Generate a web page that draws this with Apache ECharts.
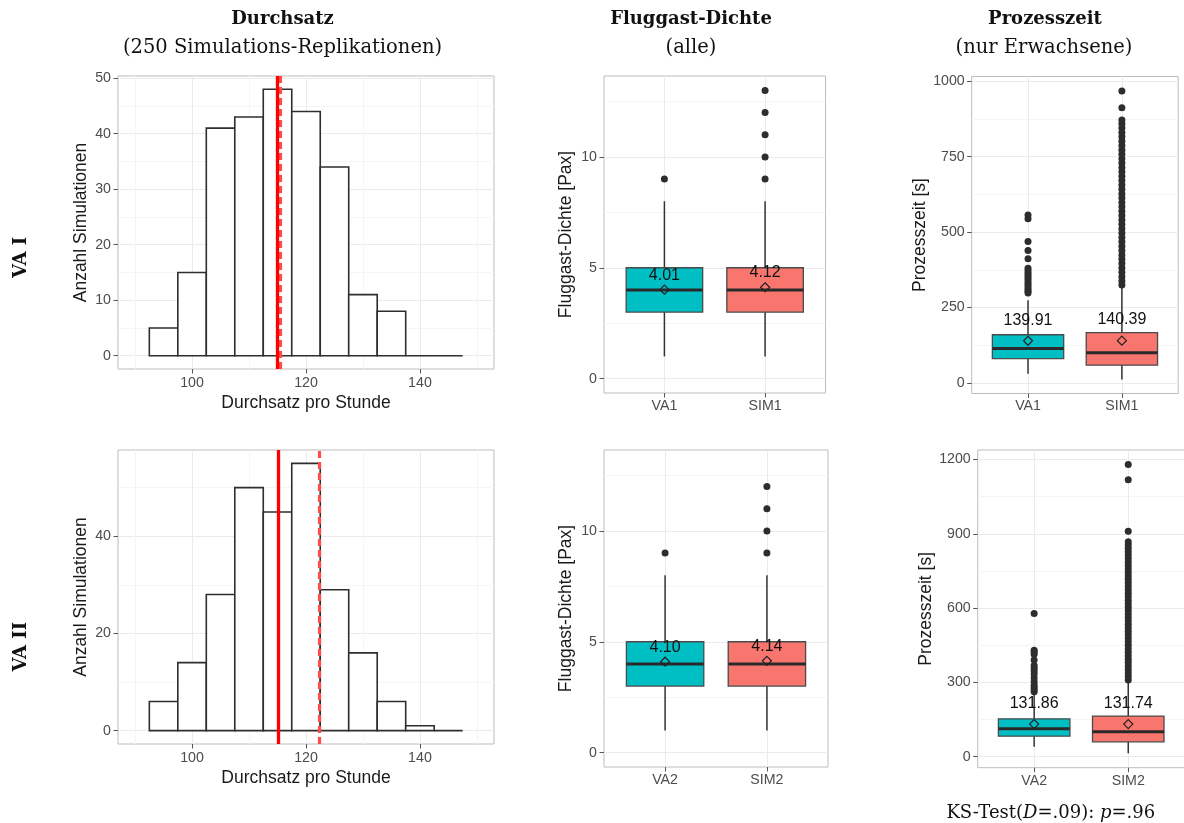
<!DOCTYPE html>
<html>
<head>
<meta charset="utf-8">
<script src="https://cdn.jsdelivr.net/npm/echarts@6.0.0/dist/echarts.min.js"></script>
<style>
  html, body { margin: 0; padding: 0; background: #fff; }
  #chart { width: 1184px; height: 823px; }
</style>
</head>
<body>
<div id="chart"></div>
<script>
// ---- Durchsatz (Histogramme, 250 Replikationen) ----
const binCenters = [95, 100, 105, 110, 115, 120, 125, 130, 135, 140, 145];
const binWidth = 5;
const countsVA1 = [5, 15, 41, 43, 48, 44, 34, 11, 8, 0, 0];
const countsVA2 = [6, 14, 28, 50, 45, 55, 29, 16, 6, 1, 0];
const realThroughput = [115.0, 115.1];  // durchgezogene Linie
const simThroughput = [115.5, 122.4];   // gestrichelte Linie

// ---- Fluggast-Dichte ----
const cats1 = ['VA1', 'SIM1'];
const cats2 = ['VA2', 'SIM2'];
const densityBox1 = [[1, 3, 4, 5, 8], [1, 3, 4, 5, 8]];   // min, q1, median, q3, max
const densityBox2 = [[1, 3, 4, 5, 8], [1, 3, 4, 5, 8]];
const densityOut1 = [[9], [9, 10, 11, 12, 13]];
const densityOut2 = [[9], [9, 10, 11, 12]];
const densityMean1 = [4.01, 4.12];
const densityMean2 = [4.10, 4.14];

// ---- Prozesszeit ----
const timeBox1 = [[31, 81, 114, 160, 274], [12, 59, 100, 167, 318]];
const timeBox2 = [[40, 83, 113, 153, 256], [14, 60, 101, 164, 305]];
const timeOut1 = [
  [298, 304, 311, 318, 326, 333, 341, 349, 356, 364, 372, 380, 412, 439, 469, 544, 557],
  [325, 338, 352, 367, 381, 396, 410, 424, 439, 453, 468, 482, 497, 511, 526, 540, 555, 569,
   584, 598, 613, 627, 642, 656, 671, 685, 700, 714, 729, 743, 758, 772, 787, 801, 816, 830,
   845, 859, 872, 912, 968]
];
const timeOut2 = [
  [262, 270, 279, 289, 303, 318, 334, 346, 357, 368, 391, 414, 424, 430, 578],
  [310, 324, 338, 352, 366, 380, 394, 408, 422, 436, 450, 464, 478, 492, 506, 520, 534, 548,
   562, 576, 590, 604, 618, 632, 646, 660, 674, 688, 702, 716, 730, 744, 758, 772, 786, 800,
   814, 828, 842, 856, 868, 910, 1118, 1180]
];
const timeMean1 = [139.91, 140.39];
const timeMean2 = [131.86, 131.74];

// ---- Achsen-Ticks ----
const histXTicks = [100, 120, 140];
const histXMinor = [90, 110, 130, 150];
const histYTicks1 = [0, 10, 20, 30, 40, 50];
const histYMinor1 = [5, 15, 25, 35, 45];
const histYTicks2 = [0, 20, 40];
const histYMinor2 = [10, 30, 50];
const densityTicks = [0, 5, 10];
const densityMinor = [2.5, 7.5, 12.5];
const timeTicks1 = [0, 250, 500, 750, 1000];
const timeMinor1 = [125, 375, 625, 875];
const timeTicks2 = [0, 300, 600, 900, 1200];
const timeMinor2 = [150, 450, 750, 1050];

const boxColors = ['#00BFC4', '#F8766D'];
const sans = 'Liberation Sans, Arial, sans-serif';
const serif = 'DejaVu Serif, serif';
const tickText = { color: '#4d4d4d', fontFamily: sans, fontSize: 14.2 };
const titleText = { color: '#1a1a1a', fontFamily: sans, fontSize: 17.5 };

const grids = [], xAxes = [], yAxes = [], series = [];

function addGrid(r) {
    grids.push({
        left: r[0], top: r[1], width: r[2], height: r[3],
        show: true, backgroundColor: '#fff', borderColor: '#bdbdbd', borderWidth: 1,
        containLabel: false, outerBoundsMode: 'none'
    });
    return grids.length - 1;
}

function mainAxis(gi, range, ticks, extra) {
    return Object.assign({
        type: 'value', gridIndex: gi, min: range[0], max: range[1],
        axisLine: { show: false, onZero: false },
        axisTick: { show: true, length: 4.5, customValues: ticks, lineStyle: { color: '#555', width: 1 } },
        axisLabel: Object.assign({ customValues: ticks, margin: 7, formatter: v => String(v) }, tickText),
        splitLine: { show: true, lineStyle: { color: '#ebebeb', width: 1 } },
        minorSplitLine: { show: false },
        nameLocation: 'middle', nameTextStyle: titleText, nameMoveOverlap: false
    }, extra);
}

// unsichtbare Zweitachse nur fuer die feinen Gitterlinien
function minorAxis(gi, range, ticks) {
    return {
        type: 'value', gridIndex: gi, min: range[0], max: range[1],
        axisLine: { show: false, onZero: false },
        axisTick: { show: false, customValues: ticks },
        axisLabel: { show: false, customValues: ticks },
        splitLine: { show: true, lineStyle: { color: '#f5f5f5', width: 1 } }
    };
}

function histPanel(rect, yRange, yTicks, yMinor, counts, real, sim) {
    const gi = addGrid(rect);
    const xRange = [87, 153];
    const xi = xAxes.push(mainAxis(gi, xRange, histXTicks, { name: 'Durchsatz pro Stunde', nameGap: 25 })) - 1;
    xAxes.push(minorAxis(gi, xRange, histXMinor));
    const yi = yAxes.push(mainAxis(gi, yRange, yTicks, { name: 'Anzahl Simulationen', nameGap: 27.5 })) - 1;
    yAxes.push(minorAxis(gi, yRange, yMinor));
    series.push({
        type: 'custom', xAxisIndex: xi, yAxisIndex: yi, silent: true,
        data: binCenters.map((c, i) => [c - binWidth / 2, c + binWidth / 2, counts[i]]),
        encode: { x: [0, 1], y: 2 },
        renderItem: (params, api) => {
            const p0 = api.coord([api.value(0), api.value(2)]);
            const p1 = api.coord([api.value(1), 0]);
            return {
                type: 'rect',
                shape: { x: p0[0], y: p0[1], width: p1[0] - p0[0], height: p1[1] - p0[1] },
                style: { fill: '#fff', stroke: '#2e2e2e', lineWidth: 1.6 }
            };
        },
        markLine: {
            silent: true, symbol: 'none', label: { show: false }, animation: false,
            data: [
                { xAxis: sim, lineStyle: { color: '#ff4d4d', width: 3.2, type: [7, 4] } },
                { xAxis: real, lineStyle: { color: '#ff0000', width: 3.3, type: 'solid' } }
            ]
        }
    });
}

function boxPanel(rect, yRange, yTicks, yMinor, cats, boxes, outliers, means, yName, nameGap, labelDist) {
    const gi = addGrid(rect);
    const xi = xAxes.push(mainAxis(gi, [0.4, 2.6], [1, 2], {
        axisLabel: Object.assign({ customValues: [1, 2], margin: 6, formatter: v => cats[Math.round(v) - 1] }, tickText)
    })) - 1;
    const yi = yAxes.push(mainAxis(gi, yRange, yTicks, { name: yName, nameGap: nameGap })) - 1;
    yAxes.push(minorAxis(gi, yRange, yMinor));

    series.push({
        type: 'custom', xAxisIndex: xi, yAxisIndex: yi, silent: true,
        data: boxes.map((b, i) => [i + 1].concat(b)),
        encode: { x: 0, y: [1, 2, 3, 4, 5] },
        renderItem: (params, api) => {
            const x = api.value(0);
            const half = api.size([0.76, 0])[0] / 2;
            const c = api.coord([x, 0])[0];
            const y = k => api.coord([x, api.value(k)])[1];
            const ln = { stroke: '#333', lineWidth: 1.5 };
            return {
                type: 'group',
                children: [
                    { type: 'line', shape: { x1: c, y1: y(1), x2: c, y2: y(2) }, style: ln },
                    { type: 'line', shape: { x1: c, y1: y(4), x2: c, y2: y(5) }, style: ln },
                    {
                        type: 'rect',
                        shape: { x: c - half, y: y(4), width: 2 * half, height: y(2) - y(4) },
                        style: { fill: boxColors[params.dataIndex], stroke: '#4a4a4a', lineWidth: 1.3 }
                    },
                    { type: 'line', shape: { x1: c - half, y1: y(3), x2: c + half, y2: y(3) }, style: { stroke: '#2a2a2a', lineWidth: 3 } }
                ]
            };
        }
    });
    series.push({
        type: 'scatter', xAxisIndex: xi, yAxisIndex: yi, silent: true,
        data: outliers.flatMap((vals, i) => vals.map(v => [i + 1, v])),
        symbol: 'circle', symbolSize: 7,
        itemStyle: { color: '#2d2d2d', opacity: 1 }
    });
    series.push({
        type: 'scatter', xAxisIndex: xi, yAxisIndex: yi, silent: true, z: 5,
        data: means.map((m, i) => [i + 1, m]),
        symbol: 'diamond', symbolSize: 9,
        itemStyle: { color: 'rgba(0,0,0,0)', borderColor: '#222', borderWidth: 1.2, opacity: 1 },
        label: {
            show: true, position: 'top', distance: labelDist,
            formatter: p => p.value[1].toFixed(2),
            color: '#111', fontFamily: sans, fontSize: 16
        }
    });
}

histPanel([118, 76, 376, 293], [-2.4, 50.4], histYTicks1, histYMinor1, countsVA1, realThroughput[0], simThroughput[0]);
histPanel([118, 450, 376, 294], [-2.75, 57.75], histYTicks2, histYMinor2, countsVA2, realThroughput[1], simThroughput[1]);
boxPanel([604, 76, 221.5, 317], [-0.65, 13.65], densityTicks, densityMinor, cats1, densityBox1, densityOut1, densityMean1,
    'Fluggast-Dichte [Pax]', 28.5, 1.5);
boxPanel([604, 450, 224, 317], [-0.65, 13.65], densityTicks, densityMinor, cats2, densityBox2, densityOut2, densityMean2,
    'Fluggast-Dichte [Pax]', 28.5, 1.5);
boxPanel([971.7, 76.5, 206.5, 317], [-34.75, 1015.75], timeTicks1, timeMinor1, cats1, timeBox1, timeOut1, timeMean1,
    'Prozesszeit [s]', 42.5, 7.5);
boxPanel([977.7, 450, 207, 317.7], [-44.3, 1238.3], timeTicks2, timeMinor2, cats2, timeBox2, timeOut2, timeMean2,
    'Prozesszeit [s]', 42.5, 7.5);

function headText(x, y, text, size, bold) {
    return {
        type: 'text', x: x, y: y, silent: true,
        style: {
            text: text, fontFamily: serif, fontSize: size, fontWeight: bold ? 'bold' : 'normal',
            fill: '#111', align: 'center', verticalAlign: 'middle'
        }
    };
}

const graphics = [
    headText(282.5, 19.8, 'Durchsatz', 18, true),
    headText(282.5, 48.4, '(250 Simulations-Replikationen)', 19.5, false),
    headText(691, 19.8, 'Fluggast-Dichte', 18, true),
    headText(691, 48.4, '(alle)', 19.5, false),
    headText(1045, 19.8, 'Prozesszeit', 18, true),
    headText(1044, 48.4, '(nur Erwachsene)', 19.5, false),
    Object.assign(headText(21.7, 257.5, 'VA I', 18, true), { rotation: Math.PI / 2 }),
    Object.assign(headText(21.7, 646.7, 'VA II', 18, true), { rotation: Math.PI / 2 }),
    {
        type: 'text', x: 1050.8, y: 813, silent: true,
        style: {
            text: 'KS-Test({i|D}=.09): {i|p}=.96',
            fontFamily: serif, fontSize: 18, fill: '#111', align: 'center', verticalAlign: 'middle',
            rich: { i: { fontFamily: serif, fontSize: 18, fontStyle: 'italic', fill: '#111' } }
        }
    }
];

const chart = echarts.init(document.getElementById('chart'), null, { renderer: 'canvas' });
chart.setOption({
    animation: false,
    backgroundColor: '#fff',
    grid: grids,
    xAxis: xAxes,
    yAxis: yAxes,
    series: series,
    graphic: graphics
});
</script>
</body>
</html>
